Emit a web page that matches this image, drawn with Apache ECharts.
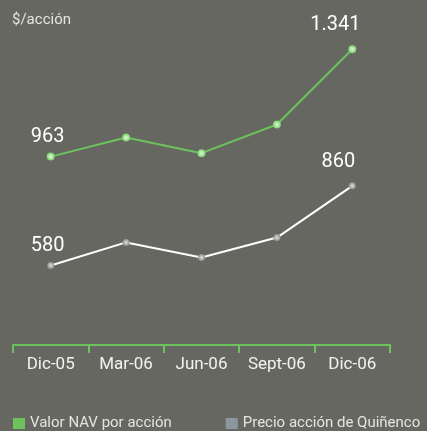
<!DOCTYPE html>
<html>
<head>
<meta charset="utf-8">
<script src="https://cdn.jsdelivr.net/npm/echarts@6/dist/echarts.min.js"></script>
<style>
    html, body { margin: 0; padding: 0; background: #676762; }
    #main { width: 427px; height: 431px; }
</style>
</head>
<body>
<div id="main"></div>
<script type="text/javascript">
    var categories = ['Dic-05', 'Mar-06', 'Jun-06', 'Sept-06', 'Dic-06'];
    var navValues = [963, 1030, 975, 1076, 1341];
    var precioValues = [580, 661, 608, 678, 860];
    var seriesNames = ['Valor NAV por acción', 'Precio acción de Quiñenco'];

    var font = 'Roboto, "Liberation Sans", sans-serif';

    function fmt(v) {
        return String(v).replace(/\B(?=(\d{3})+(?!\d))/g, '.');
    }

    // solo primer y último punto llevan etiqueta
    function withLabels(values, firstOffset, lastOffset) {
        return values.map(function (v, i) {
            var item = { value: v };
            if (i === 0 || i === values.length - 1) {
                item.label = {
                    show: true,
                    position: 'top',
                    offset: i === 0 ? firstOffset : lastOffset,
                    formatter: function (p) { return fmt(p.value); },
                    color: '#ffffff',
                    fontSize: 20,
                    fontFamily: font
                };
            }
            return item;
        });
    }

    var chart = echarts.init(document.getElementById('main'));
    var option = {
        backgroundColor: '#676762',
        animation: false,
        title: {
            text: '$/acción',
            left: 7,
            top: 8,
            textStyle: { color: '#e4e4e0', fontSize: 15, fontWeight: 'normal', fontFamily: font }
        },
        legend: {
            left: 8,
            bottom: -5,
            width: 425,
            itemWidth: 12,
            itemHeight: 11,
            itemGap: 54,
            icon: 'rect',
            textStyle: { color: '#e4e4e0', fontSize: 15, fontFamily: font },
            data: [
                { name: seriesNames[0], itemStyle: { color: '#6cc35e' } },
                { name: seriesNames[1], itemStyle: { color: '#8b979d' } }
            ]
        },
        grid: { left: 13, right: 37, top: 4, bottom: 86 },
        xAxis: {
            type: 'category',
            data: categories,
            boundaryGap: true,
            axisLine: { lineStyle: { color: '#6cc35e', width: 2 } },
            axisTick: { show: true, interval: 0, length: 8, lineStyle: { color: '#6cc35e', width: 2 } },
            axisLabel: { interval: 0, color: '#f2f2f0', fontSize: 17, margin: 11, fontFamily: font }
        },
        yAxis: {
            type: 'value',
            min: 300,
            max: 1500,
            show: false,
            splitLine: { show: false }
        },
        series: [
            {
                name: seriesNames[0],
                type: 'line',
                data: withLabels(navValues, [-3, -1], [-17, -5]),
                symbol: 'circle',
                symbolSize: 8,
                lineStyle: { color: '#6cc35e', width: 2 },
                itemStyle: {
                    color: new echarts.graphic.RadialGradient(0.5, 0.5, 0.5, [
                        { offset: 0, color: '#e6fbe0' },
                        { offset: 1, color: '#7ccf6b' }
                    ]),
                    borderWidth: 0
                }
            },
            {
                name: seriesNames[1],
                type: 'line',
                data: withLabels(precioValues, [-3, -1], [-14, -5]),
                symbol: 'circle',
                symbolSize: 7,
                lineStyle: { color: '#ffffff', width: 2 },
                itemStyle: {
                    color: new echarts.graphic.RadialGradient(0.5, 0.5, 0.5, [
                        { offset: 0, color: '#e0e0e0' },
                        { offset: 1, color: '#8e8e8c' }
                    ]),
                    borderWidth: 0
                }
            }
        ]
    };
    chart.setOption(option);
</script>
</body>
</html>
